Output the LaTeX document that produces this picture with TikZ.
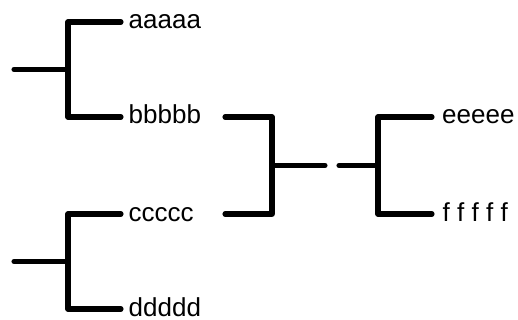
\documentclass[tikz,border=0pt]{standalone}
\usepackage{fontspec}
\setmainfont{Liberation Sans}
\begin{document}
\begin{tikzpicture}[x=1pt,y=-1pt,
  branch/.style={line width=5.1pt,line cap=round,line join=round},
  leaf/.style={anchor=base west,inner sep=0pt,font=\fontsize{26}{30}\selectfont}]
\useasboundingbox (0,0) rectangle (518,320);

% left upper bracket
\coordinate (rootA) at (14,69.5);
\coordinate (joinA) at (68,69.5);
\coordinate (topA) at (68,22);
\coordinate (botA) at (68,117);
\coordinate (endA1) at (121,22);
\coordinate (endA2) at (121,117);
\node[leaf] (a) at (128.5,29) {aaaaa};
\node[leaf] (b) at (128.5,124) {bbbbb};

% left lower bracket
\coordinate (rootB) at (14,261.5);
\coordinate (joinB) at (68,261.5);
\coordinate (topB) at (68,214);
\coordinate (botB) at (68,309);
\coordinate (endB1) at (121,214);
\coordinate (endB2) at (121,309);
\node[leaf] (c) at (128.5,221) {ccccc};
\node[leaf] (d) at (128.5,316) {ddddd};

% middle bracket
\coordinate (inM1) at (225,117);
\coordinate (inM2) at (225,214);
\coordinate (topM) at (272,117);
\coordinate (botM) at (272,214);
\coordinate (joinM) at (272,165.5);
\coordinate (outM) at (325,165.5);

% right bracket
\coordinate (rootR) at (339,165.5);
\coordinate (joinR) at (378,165.5);
\coordinate (topR) at (378,117);
\coordinate (botR) at (378,214);
\coordinate (endR1) at (432,117);
\coordinate (endR2) at (432,214);
\node[leaf] (e) at (442,124) {eeeee};
\node[leaf] (f) at (442.5,221) {f f f f f};

\draw[branch] (rootA) -- (joinA);
\draw[branch] (endA1) -- (topA) -- (botA) -- (endA2);
\draw[branch] (rootB) -- (joinB);
\draw[branch] (endB1) -- (topB) -- (botB) -- (endB2);
\draw[branch] (inM1) -- (topM) -- (botM) -- (inM2);
\draw[branch] (joinM) -- (outM);
\draw[branch] (rootR) -- (joinR);
\draw[branch] (endR1) -- (topR) -- (botR) -- (endR2);
\end{tikzpicture}
\end{document}
